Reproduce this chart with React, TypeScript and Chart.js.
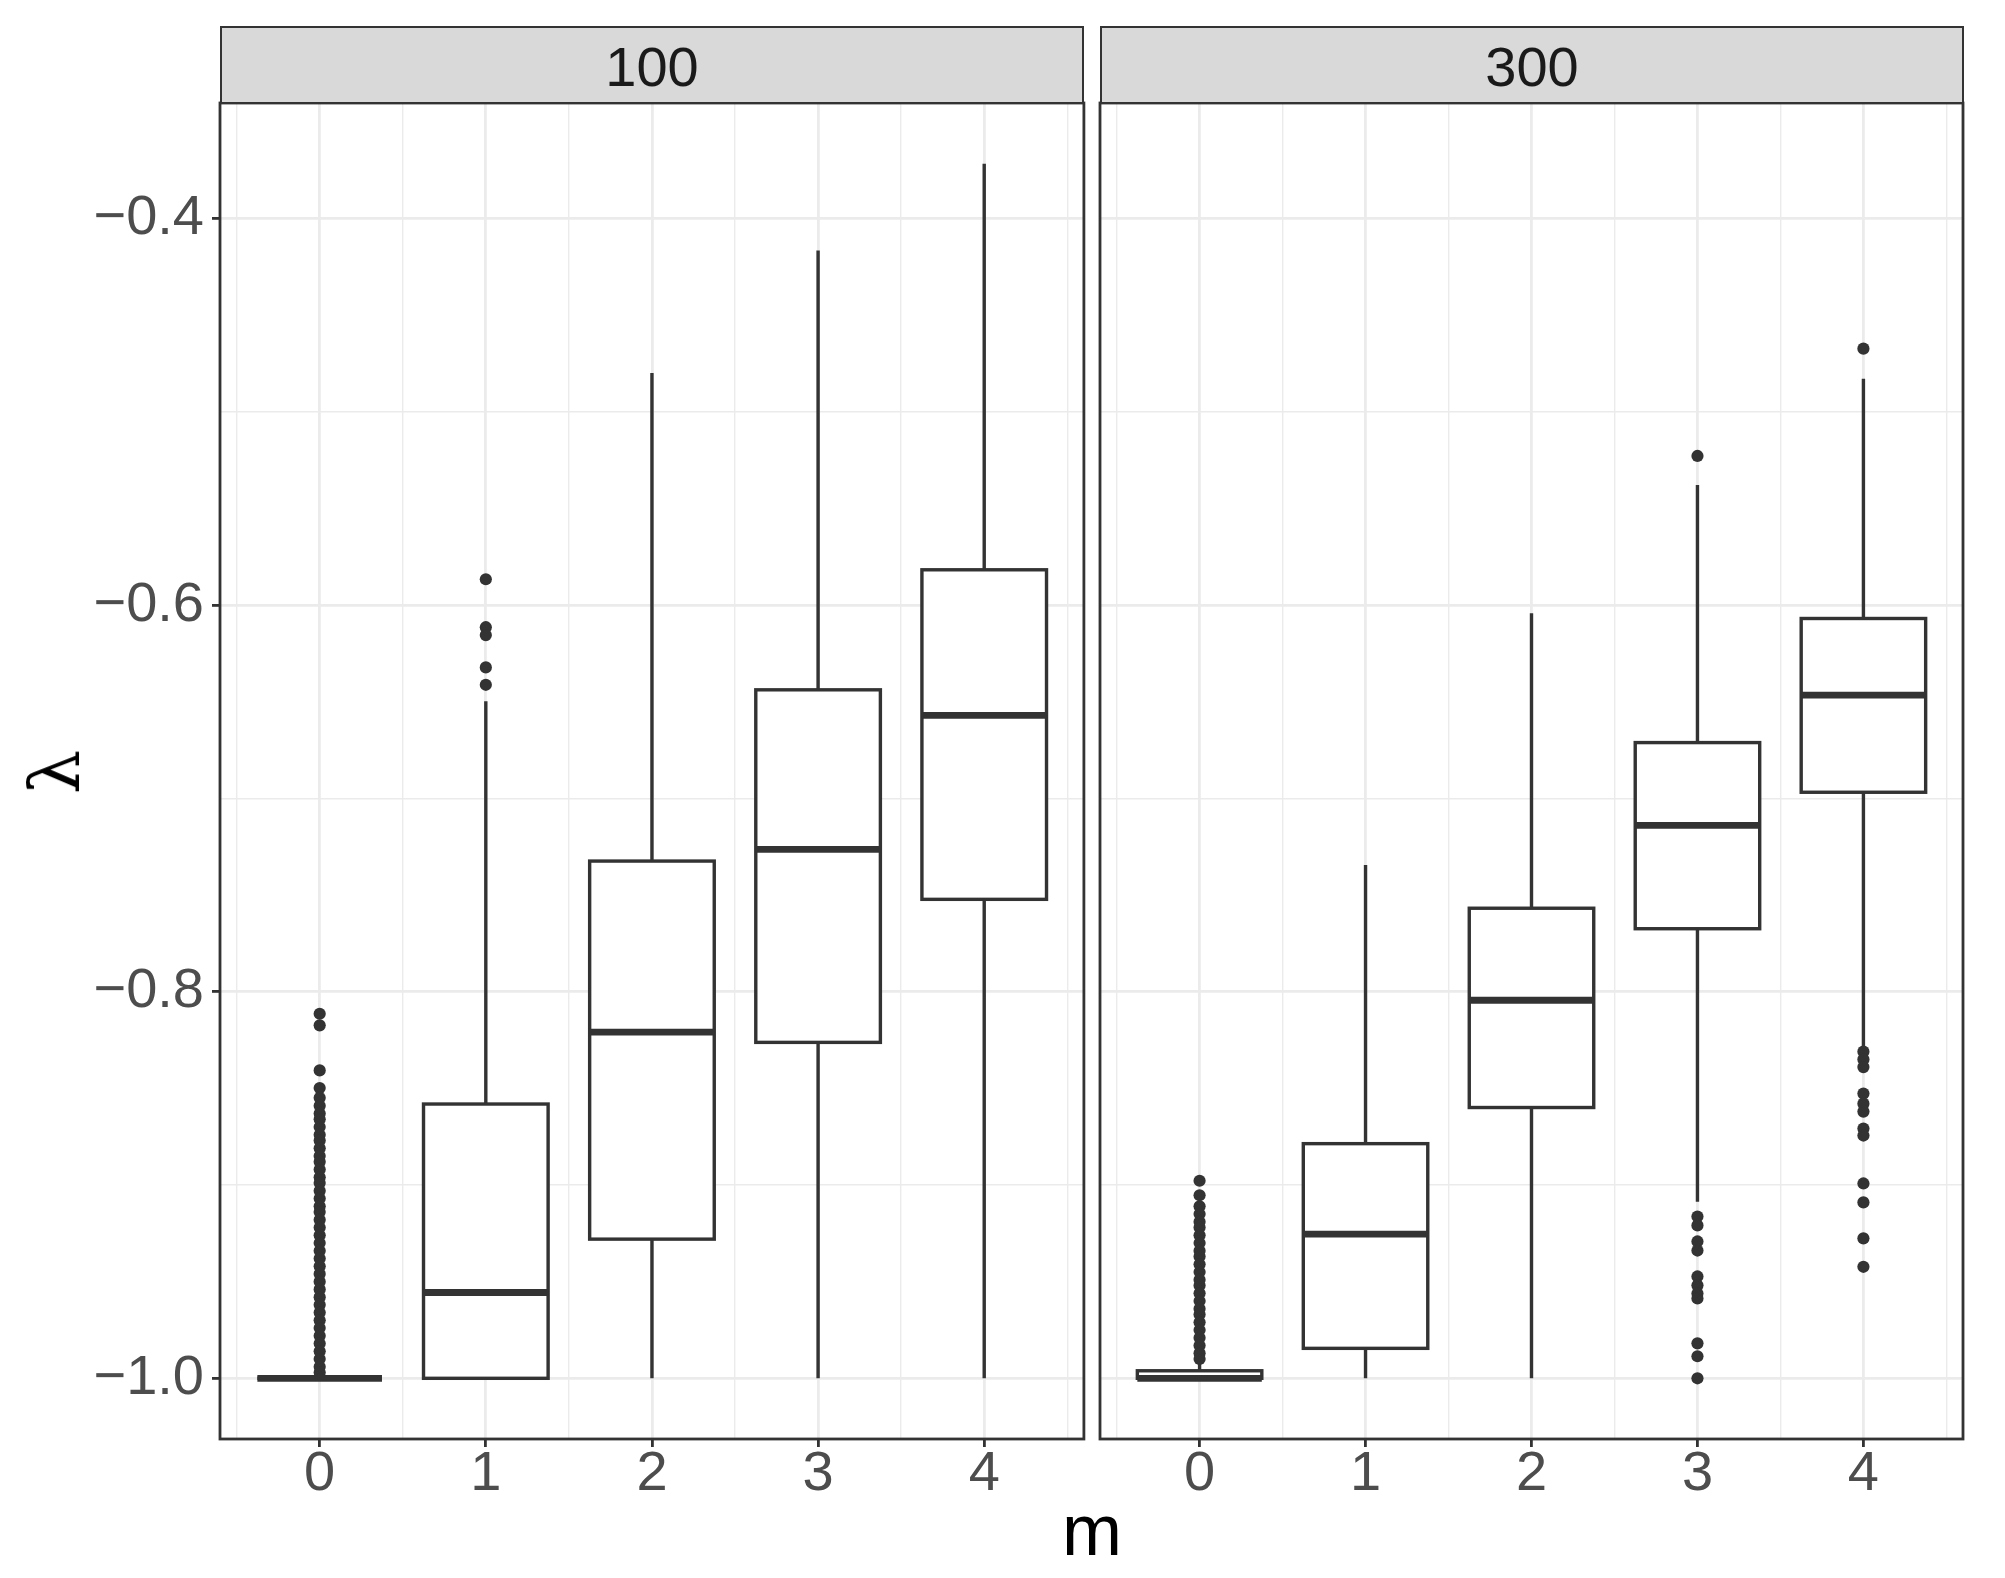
import React, { useEffect, useRef } from 'react';
import { Chart, registerables } from 'chart.js';

Chart.register(...registerables);

// ---------- data ----------
const categories = [0, 1, 2, 3, 4];
const panelLabels = ['100', '300'];
const yMajorTicks = [-1.0, -0.8, -0.6, -0.4];
const yMinorTicks = [-0.9, -0.7, -0.5];
const xMinorTicks = [-0.5, 0.5, 1.5, 2.5, 3.5, 4.5];
const yTickLabels = ['\u22121.0', '\u22120.8', '\u22120.6', '\u22120.4'];

// panel "100"
const whiskerLow100 = [-1.0, -1.0, -1.0, -1.0, -1.0];
const q1_100 = [-1.0, -1.0, -0.928, -0.8262, -0.7522];
const median100 = [-1.0, -0.9556, -0.8209, -0.7264, -0.657];
const q3_100 = [-1.0, -0.8581, -0.7324, -0.6438, -0.5817];
const whiskerHigh100 = [-1.0, -0.6497, -0.4799, -0.4165, -0.3716];
const outliers100_m0 = [
  -0.8114, -0.8174, -0.8407, -0.8498, -0.8549, -0.859, -0.863, -0.866, -0.87, -0.874,
  -0.877, -0.881, -0.885, -0.888, -0.892, -0.896, -0.899, -0.903, -0.907, -0.911,
  -0.914, -0.918, -0.922, -0.926, -0.93, -0.934, -0.938, -0.942, -0.946, -0.95,
  -0.954, -0.958, -0.962, -0.966, -0.97, -0.974, -0.978, -0.982, -0.986, -0.99,
  -0.994, -0.997,
];
const outliers100_m1 = [-0.5866, -0.6114, -0.6155, -0.6322, -0.6412];
const outliers100_m2: number[] = [];
const outliers100_m3: number[] = [];
const outliers100_m4: number[] = [];

// panel "300"
const whiskerLow300 = [-1.0, -1.0, -1.0, -0.9087, -0.8295];
const q1_300 = [-1.0, -0.9845, -0.8599, -0.7674, -0.6968];
const median300 = [-1.0, -0.9254, -0.8044, -0.7139, -0.6465];
const q3_300 = [-0.9961, -0.8786, -0.7568, -0.6711, -0.6069];
const whiskerHigh300 = [-0.9915, -0.7344, -0.6042, -0.5378, -0.4828];
const outliers300_m0 = [
  -0.8978, -0.9053, -0.911, -0.915, -0.919, -0.922, -0.926, -0.93, -0.934, -0.937,
  -0.941, -0.945, -0.949, -0.952, -0.956, -0.96, -0.964, -0.967, -0.971, -0.975,
  -0.979, -0.983, -0.987, -0.99,
];
const outliers300_m1: number[] = [];
const outliers300_m2: number[] = [];
const outliers300_m3 = [
  -0.5228, -0.9163, -0.9209, -0.9292, -0.9339, -0.9473, -0.9519, -0.9561, -0.9587,
  -0.9819, -0.9886, -1.0,
];
const outliers300_m4 = [
  -0.4673, -0.831, -0.835, -0.839, -0.8527, -0.8579, -0.862, -0.8708, -0.8744,
  -0.8992, -0.909, -0.9276, -0.9423,
];

// ---------- styling ----------
const DARK = '#333333';
const GRID = '#EBEBEB';
const AXIS_TEXT = '#4D4D4D';
const BOX_HALF = 0.375;
const X_MIN = -0.6;
const X_MAX = 4.6;
const Y_MIN = -1.0314;
const Y_MAX = -0.3402;

type Stats = { lo: number[]; q1: number[]; med: number[]; q3: number[]; hi: number[] };

const stats100: Stats = { lo: whiskerLow100, q1: q1_100, med: median100, q3: q3_100, hi: whiskerHigh100 };
const stats300: Stats = { lo: whiskerLow300, q1: q1_300, med: median300, q3: q3_300, hi: whiskerHigh300 };
const out100 = [outliers100_m0, outliers100_m1, outliers100_m2, outliers100_m3, outliers100_m4];
const out300 = [outliers300_m0, outliers300_m1, outliers300_m2, outliers300_m3, outliers300_m4];

const isMajorY = (v: number) => Math.abs(v * 5 - Math.round(v * 5)) < 1e-6;
const isMajorX = (v: number) => Math.abs(v - Math.round(v)) < 1e-6;

function boxPlugin(stats: Stats) {
  return {
    id: 'boxes',
    afterDatasetsDraw(chart: any) {
      const { ctx, chartArea } = chart;
      const x = chart.scales.x;
      const y = chart.scales.y;
      ctx.save();
      ctx.beginPath();
      ctx.rect(chartArea.left, chartArea.top, chartArea.right - chartArea.left, chartArea.bottom - chartArea.top);
      ctx.clip();
      ctx.strokeStyle = DARK;
      categories.forEach((c, i) => {
        const cx = x.getPixelForValue(c);
        const xl = x.getPixelForValue(c - BOX_HALF);
        const xr = x.getPixelForValue(c + BOX_HALF);
        const yLo = y.getPixelForValue(stats.lo[i]);
        const yQ1 = y.getPixelForValue(stats.q1[i]);
        const yMed = y.getPixelForValue(stats.med[i]);
        const yQ3 = y.getPixelForValue(stats.q3[i]);
        const yHi = y.getPixelForValue(stats.hi[i]);
        ctx.lineWidth = 3.4;
        ctx.lineCap = 'butt';
        ctx.beginPath();
        ctx.moveTo(cx, yHi);
        ctx.lineTo(cx, yQ3);
        ctx.moveTo(cx, yQ1);
        ctx.lineTo(cx, yLo);
        ctx.stroke();
        ctx.fillStyle = '#FFFFFF';
        ctx.fillRect(xl, yQ3, xr - xl, yQ1 - yQ3);
        ctx.lineJoin = 'miter';
        ctx.strokeRect(xl, yQ3, xr - xl, yQ1 - yQ3);
        ctx.lineWidth = 6.8;
        ctx.beginPath();
        ctx.moveTo(xl, yMed);
        ctx.lineTo(xr, yMed);
        ctx.stroke();
      });
      ctx.restore();
    },
    afterDraw(chart: any) {
      const { ctx, chartArea } = chart;
      ctx.save();
      ctx.strokeStyle = DARK;
      ctx.lineWidth = 2.8;
      ctx.strokeRect(chartArea.left, chartArea.top, chartArea.right - chartArea.left, chartArea.bottom - chartArea.top);
      ctx.restore();
    },
  };
}

function makeChart(
  canvas: HTMLCanvasElement,
  stats: Stats,
  outliers: number[][],
  showY: boolean,
  yWidth: number,
  xHeight: number,
  padRight: number
) {
  const points: { x: number; y: number }[] = [];
  categories.forEach((c, i) => outliers[i].forEach((v) => points.push({ x: c, y: v })));
  const yTickValues = [...yMajorTicks, ...yMinorTicks].sort((a, b) => a - b);
  const xTickValues = [...categories, ...xMinorTicks].sort((a, b) => a - b);

  return new Chart(canvas, {
    type: 'scatter',
    data: {
      datasets: [
        {
          data: points,
          pointRadius: 6.1,
          pointHoverRadius: 6.1,
          pointBackgroundColor: DARK,
          pointBorderWidth: 0,
          borderWidth: 0,
          backgroundColor: DARK,
        },
      ],
    },
    options: {
      responsive: false,
      animation: false,
      events: [],
      devicePixelRatio: 1,
      layout: { padding: { top: 43, right: padRight, left: 0, bottom: 0 } },
      plugins: { legend: { display: false }, tooltip: { enabled: false } },
      scales: {
        x: {
          type: 'linear',
          min: X_MIN,
          max: X_MAX,
          afterBuildTicks: (s: any) => {
            s.ticks = xTickValues.map((v) => ({ value: v }));
          },
          afterFit: (s: any) => {
            s.height = xHeight;
            s.paddingLeft = 0;
            s.paddingRight = 0;
          },
          border: { display: false },
          grid: {
            color: GRID,
            lineWidth: (ctx: any) => (isMajorX(ctx.tick.value) ? 2.8 : 1.4),
            tickColor: (ctx: any) => (isMajorX(ctx.tick.value) ? DARK : 'rgba(0,0,0,0)'),
            tickWidth: 2.8,
            tickLength: 8,
            drawTicks: true,
          },
          ticks: {
            autoSkip: false,
            maxRotation: 0,
            minRotation: 0,
            padding: 0,
            color: AXIS_TEXT,
            font: { family: 'Liberation Sans', size: 56, lineHeight: 1 },
            callback: (v: any) => (isMajorX(Number(v)) ? String(Math.round(Number(v))) : ''),
          },
        },
        y: {
          type: 'linear',
          min: Y_MIN,
          max: Y_MAX,
          afterBuildTicks: (s: any) => {
            s.ticks = yTickValues.map((v) => ({ value: v }));
          },
          afterFit: (s: any) => {
            s.width = yWidth;
            s.paddingTop = 0;
            s.paddingBottom = 0;
          },
          border: { display: false },
          grid: {
            color: GRID,
            lineWidth: (ctx: any) => (isMajorY(ctx.tick.value) ? 2.8 : 1.4),
            tickColor: (ctx: any) => (isMajorY(ctx.tick.value) ? DARK : 'rgba(0,0,0,0)'),
            tickWidth: 2.8,
            tickLength: 8,
            drawTicks: showY,
          },
          ticks: {
            display: showY,
            autoSkip: false,
            padding: 8,
            color: AXIS_TEXT,
            font: { family: 'Liberation Sans', size: 56, lineHeight: 1 },
            callback: (v: any) => {
              const n = Number(v);
              const idx = yMajorTicks.findIndex((t) => Math.abs(t - n) < 1e-6);
              return idx >= 0 ? yTickLabels[idx] : '';
            },
          },
        },
      },
    },
    plugins: [boxPlugin(stats)],
  } as any);
}

const stripStyle = (left: number): React.CSSProperties => ({
  position: 'absolute',
  left,
  top: 26,
  width: 864,
  height: 78,
  boxSizing: 'border-box',
  background: '#D9D9D9',
  border: '2.8px solid #333333',
});

const stripTextStyle = (center: number): React.CSSProperties => ({
  position: 'absolute',
  left: center,
  top: 38.6,
  transform: 'translateX(-50%)',
  fontFamily: 'Liberation Sans',
  fontSize: 56,
  lineHeight: 1,
  color: '#1A1A1A',
  whiteSpace: 'nowrap',
});

export default function App() {
  const leftRef = useRef<HTMLCanvasElement>(null);
  const rightRef = useRef<HTMLCanvasElement>(null);

  useEffect(() => {
    const c1 = makeChart(leftRef.current!, stats100, out100, true, 220, 139, 6);
    const c2 = makeChart(rightRef.current!, stats300, out300, false, 10, 139, 42);
    return () => {
      c1.destroy();
      c2.destroy();
    };
  }, []);

  return (
    <div
      style={{
        position: 'absolute',
        left: 0,
        top: 0,
        width: 2005,
        height: 1578,
        background: '#FFFFFF',
        overflow: 'hidden',
      }}
    >
      <canvas ref={leftRef} width={1090} height={1518} style={{ position: 'absolute', left: 0, top: 60 }} />
      <canvas ref={rightRef} width={915} height={1518} style={{ position: 'absolute', left: 1090, top: 60 }} />
      <div style={stripStyle(220)} />
      <div style={stripStyle(1100)} />
      <div style={stripTextStyle(652)}>{panelLabels[0]}</div>
      <div style={stripTextStyle(1532)}>{panelLabels[1]}</div>
      <div
        style={{
          position: 'absolute',
          left: 1092,
          top: 1494,
          transform: 'translateX(-50%)',
          fontFamily: 'Liberation Sans',
          fontSize: 72,
          lineHeight: 1,
          color: '#000000',
        }}
      >
        m
      </div>
      <div
        style={{
          position: 'absolute',
          left: 55,
          top: 772,
          transform: 'translate(-50%, -50%) rotate(-90deg)',
          fontFamily: 'DejaVu Serif',
          fontSize: 70,
          lineHeight: 1,
          color: '#000000',
        }}
      >
        λ
      </div>
    </div>
  );
}
